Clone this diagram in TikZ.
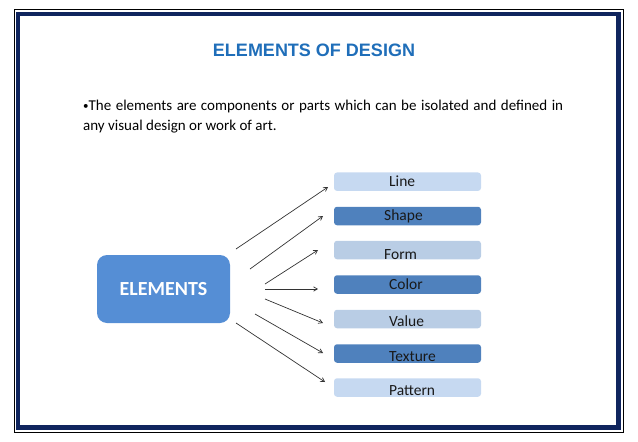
\documentclass[tikz,border=0pt]{standalone}
\usepackage{fontspec}
\setmainfont{Carlito}
\newfontfamily\arialfont{Liberation Sans}
\usepackage{tikz}
\usetikzlibrary{arrows}
\usetikzlibrary{positioning,calc}

\definecolor{frameblue}{RGB}{16,37,94}
\definecolor{titleblue}{RGB}{31,110,185}
\definecolor{mainblue}{RGB}{85,142,213}
\definecolor{darkitem}{RGB}{79,129,189}
\definecolor{lightitem}{RGB}{198,217,241}
\definecolor{paleitem}{RGB}{185,205,229}

\newcommand{\smallbullet}{\raisebox{1pt}{\fontsize{11}{11}\selectfont\textbullet}}

\tikzset{
  itembox/.style={rounded corners=3pt, minimum width=147pt, minimum height=18.5pt, inner sep=0pt},
  itemtext/.style={anchor=base west, inner sep=0pt, font=\fontsize{15.5}{18}\selectfont, text=black!90},
  link/.style={->, draw=black!80, line width=0.7pt}
}

\begin{document}
\begin{tikzpicture}[x=1pt,y=-1pt,>=angle 60]
\useasboundingbox (0,0) rectangle (638,442);
% frame
\draw[line width=1pt] (14,9) rectangle (623,432);
\draw[frameblue, line width=4.5pt] (18,14) rectangle (618.5,427.5);

\node[anchor=base, inner sep=0pt, text=titleblue, font=\arialfont\bfseries\fontsize{18}{21}\selectfont] (title) at (314,56) {ELEMENTS OF DESIGN};

\node[anchor=base west, inner sep=0pt, text width=480pt, align=justify, font=\fontsize{15}{19.5}\selectfont] (intro) at (83,110.5)
  {\smallbullet The elements are components or parts which can be isolated and defined in\linebreak any visual design or work of art.};

\node[fill=mainblue, rounded corners=10pt, minimum width=133pt, minimum height=68pt, text=white, font=\bfseries\fontsize{20}{24}\selectfont] (elements) at (163.5,289) {ELEMENTS};

% the seven items
\foreach \name/\lbl/\col/\cy/\tx/\ty in {line/Line/lightitem/181.7/389/186,
    shape/Shape/darkitem/216/384/220, form/Form/paleitem/250/384/259.3,
    color/Color/darkitem/284.5/389/289.3, value/Value/paleitem/319/389/326.7,
    texture/Texture/darkitem/353.5/389/361, pattern/Pattern/lightitem/387.5/389/395.5}
{
  \node[itembox, fill=\col] (\name) at (407.5,\cy) {};
  \node[itemtext] (\name-text) at (\tx,\ty) {\lbl};
}

% arrows
\foreach \sx/\sy/\ex/\ey [count=\i] in {236/249/328/187, 250/269/323/216, 265/284/318/250,
    265/289/318/289, 265/299/323/323, 255/314/323/353, 236/323/325/382}
{
  \coordinate (from\i) at (\sx,\sy);
  \coordinate (to\i) at (\ex,\ey);
  \draw[link] (from\i) -- (to\i);
}
\end{tikzpicture}
\end{document}
